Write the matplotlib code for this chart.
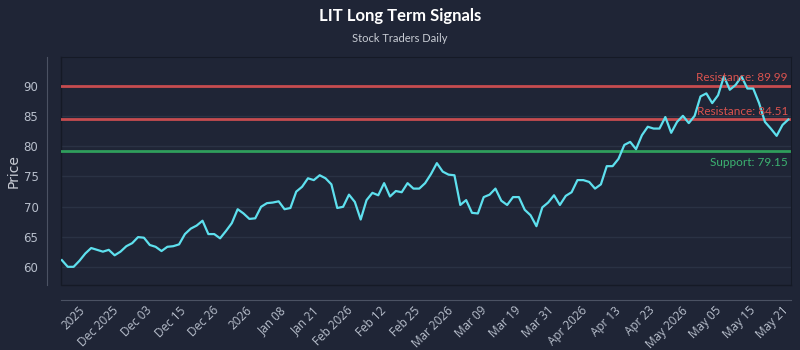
import matplotlib.pyplot as plt
import numpy as np

# closing prices, one per trading session
prices = [
    61.2, 60.1, 60.1, 61.1, 62.3, 63.2, 62.9, 62.6, 62.9, 62.0,
    62.6, 63.5, 64.0, 65.0, 64.9, 63.7, 63.4, 62.7, 63.4, 63.5,
    63.8, 65.5, 66.4, 66.9, 67.7, 65.5, 65.5, 64.8, 66.0, 67.3,
    69.6, 68.9, 68.0, 68.1, 70.0, 70.6, 70.7, 70.9, 69.6, 69.8,
    72.5, 73.3, 74.7, 74.4, 75.2, 74.7, 73.7, 69.8, 70.0, 72.0,
    70.8, 67.9, 71.1, 72.3, 71.9, 73.9, 71.7, 72.6, 72.4, 73.9,
    73.0, 73.0, 73.9, 75.4, 77.2, 75.8, 75.3, 75.2, 70.3, 71.1,
    69.0, 68.9, 71.6, 72.0, 73.0, 71.0, 70.3, 71.6, 71.6, 69.5,
    68.6, 66.8, 69.9, 70.7, 71.9, 70.3, 71.8, 72.4, 74.4, 74.4,
    74.1, 73.0, 73.7, 76.7, 76.7, 77.9, 80.2, 80.7, 79.5, 81.8,
    83.2, 82.9, 82.9, 84.8, 82.2, 84.0, 85.0, 83.8, 85.0, 88.2,
    88.7, 87.1, 88.4, 91.5, 89.3, 90.1, 91.5, 89.5, 89.5, 87.1,
    84.0, 82.9, 81.7, 83.5, 84.4,
]

tick_labels = [
    "2025", "Dec 2025", "Dec 03", "Dec 15", "Dec 26", "2026", "Jan 08",
    "Jan 21", "Feb 2026", "Feb 12", "Feb 25", "Mar 2026", "Mar 09",
    "Mar 19", "Mar 31", "Apr 2026", "Apr 13", "Apr 23", "May 2026",
    "May 05", "May 15", "May 21",
]

levels = [89.99, 84.51, 79.15]
level_names = ["Resistance", "Resistance", "Support"]

bg = "#1f2536"
red = "#c64c4f"
green = "#2f9e5c"

fig = plt.figure(figsize=(8, 3.5), dpi=100, facecolor=bg)
ax = fig.add_axes([0.0759, 0.1857, 0.9125, 0.6514], facecolor=bg)

# spines first: moving them resets the tick labels
for s in ["top", "right"]:
    ax.spines[s].set_color("#151a26")
ax.spines["left"].set_position(("outward", 10))
ax.spines["bottom"].set_position(("outward", 11))
ax.spines["left"].set_color("#4b5263")
ax.spines["bottom"].set_color("#4b5263")
ax.plot([0, 0, 1], [1, 0, 0], transform=ax.transAxes, color="#151a26",
        linewidth=1, clip_on=False, zorder=1)

x = np.arange(len(prices))
ax.set_xlim(-0.2, 124.4)
ax.set_ylim(57.1, 94.7)

ax.set_yticks([60, 65, 70, 75, 80, 85, 90])
ax.grid(axis="y", color="#2a3244", linewidth=1)
ax.set_axisbelow(True)

for lvl, name in zip(levels, level_names):
    c = green if name == "Support" else red
    ax.axhline(lvl, color=c, linewidth=2, zorder=2)
    if name == "Support":
        ax.annotate(f"{name}: {lvl:.2f}", (1, lvl), xycoords=("axes fraction", "data"),
                    xytext=(-2, -4), textcoords="offset points", ha="right", va="top",
                    color="#3cb371", fontsize=8.5, family="Lato", zorder=4)
    else:
        ax.annotate(f"{name}: {lvl:.2f}", (1, lvl), xycoords=("axes fraction", "data"),
                    xytext=(-2, 1.5), textcoords="offset points", ha="right", va="bottom",
                    color="#d9534f", fontsize=8.5, family="Lato", zorder=4)

ax.plot(x, prices, color="#5ee0ee", linewidth=1.6, zorder=3)

ticks = np.linspace(3.6, 123.7, len(tick_labels))
ax.set_xticks(ticks)
ax.set_xticklabels(tick_labels)

ax.tick_params(axis="both", length=0, colors="#b8bfcc", labelsize=8.5)
ax.tick_params(axis="y", pad=6, labelsize=8.5)
ax.tick_params(axis="x", pad=6)
plt.setp(ax.get_xticklabels(), rotation=45, ha="right", va="center",
         rotation_mode="anchor", family="Open Sans")
ax.set_ylabel("Price", color="#c8ccd4", fontsize=10, labelpad=2)

fig.text(0.5, 0.955, "LIT Long Term Signals", ha="center", va="center",
         color="white", fontsize=12, fontweight="bold", family="Lato")
fig.text(0.5, 0.89, "Stock Traders Daily", ha="center", va="center",
         color="#c8ccd4", fontsize=8, family="Lato")

fig.savefig("out.png", dpi=100, facecolor=bg)
